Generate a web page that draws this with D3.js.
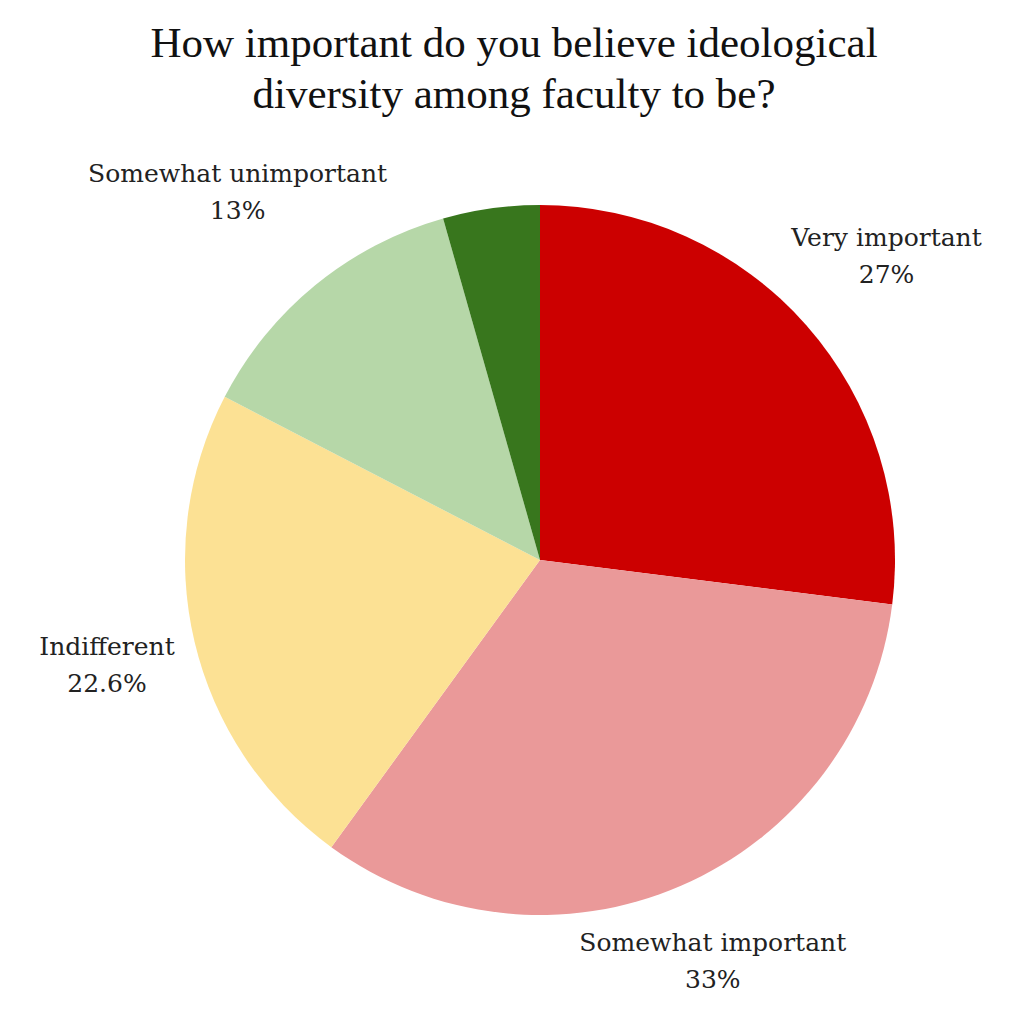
<!DOCTYPE html>
<html>
<head>
<meta charset="utf-8">
<script src="https://cdn.jsdelivr.net/npm/d3@7"></script>
<style>
  body { margin: 0; background: #fff; }
  svg { display: block; }
</style>
</head>
<body>
<svg id="pie"></svg>
<script>
(function () {
  'use strict';

  var categories = ['Very important', 'Somewhat important', 'Indifferent', 'Somewhat unimportant', 'Very unimportant'];
  var values = [27, 33, 22.6, 13, 4.4];
  var valueLabels = ['27%', '33%', '22.6%', '13%', ''];
  var showLabel = [true, true, true, true, false];
  var colors = ['#cc0000', '#ea9999', '#fce194', '#b6d7a8', '#38761d'];
  var titleLines = ['How important do you believe ideological', 'diversity among faculty to be?'];

  var width = 1024,
    height = 1022,
    cx = 540,
    cy = 560,
    radius = 355;

  // how far out each label sits (slices in order)
  var labelRadius = [462, 435, 445, 478, 420];

  var svg = d3.select('#pie')
    .attr('width', width)
    .attr('height', height);

  svg.append('text')
    .attr('x', 514)
    .attr('y', 57)
    .attr('text-anchor', 'middle')
    .style('font-family', 'Liberation Serif')
    .style('font-size', '43px')
    .attr('fill', '#111')
    .selectAll('tspan')
    .data(titleLines)
    .enter().append('tspan')
    .attr('x', 514)
    .attr('dy', function (d, i) { return i ? 51 : 0; })
    .text(function (d) { return d; });

  var pie = d3.pie().sort(null);
  var arcs = pie(values);

  var arc = d3.arc()
    .innerRadius(0)
    .outerRadius(radius);

  var g = svg.append('g')
    .attr('transform', 'translate(' + cx + ',' + cy + ')');

  g.selectAll('path')
    .data(arcs)
    .enter().append('path')
    .attr('fill', function (d, i) { return colors[i]; })
    .attr('d', arc);

  var labels = g.selectAll('text.lbl')
    .data(arcs.filter(function (d, i) { return showLabel[i]; }))
    .enter().append('text')
    .attr('class', 'lbl')
    .attr('text-anchor', 'middle')
    .style('font-family', 'DejaVu Serif')
    .style('font-size', '25px')
    .attr('fill', '#222')
    .attr('transform', function (d) {
      var r = labelRadius[d.index];
      var c = d3.arc().innerRadius(r).outerRadius(r).centroid(d);
      return 'translate(' + c[0] + ',' + c[1] + ')';
    });

  labels.append('tspan')
    .attr('x', 0)
    .attr('y', -8)
    .text(function (d) { return categories[d.index]; });

  labels.append('tspan')
    .attr('x', 0)
    .attr('y', 29)
    .text(function (d) { return valueLabels[d.index]; });
})();
</script>
</body>
</html>
